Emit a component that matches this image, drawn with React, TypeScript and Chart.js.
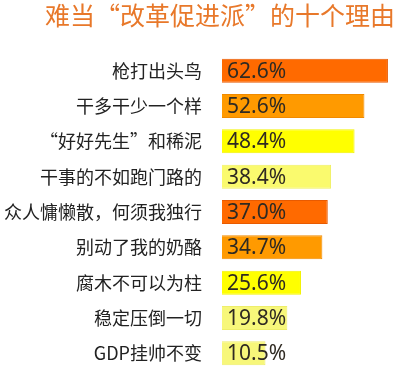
import React, { useEffect, useRef } from "react";
import { Chart, registerables } from "chart.js";

Chart.register(...registerables);

const titleText = "难当“改革促进派”的十个理由";
const categories = [
  "枪打出头鸟",
  "干多干少一个样",
  "“好好先生”和稀泥",
  "干事的不如跑门路的",
  "众人慵懒散，何须我独行",
  "别动了我的奶酪",
  "腐木不可以为柱",
  "稳定压倒一切",
  "GDP挂帅不变",
];
const values = [62.6, 52.6, 48.4, 38.4, 37.0, 34.7, 25.6, 19.8, 10.5];
const valueLabels = ["62.6%", "52.6%", "48.4%", "38.4%", "37.0%", "34.7%", "25.6%", "19.8%", "10.5%"];
const barColors = ["#FF6A00", "#FF9A00", "#FFFF00", "#FAFA6E", "#FF6A00", "#FF9A00", "#FFFF00", "#F7F77A", "#F7F77A"];
const borderColors = ["#E85A00", "#F08A00", "#F2F200", "#F0F060", "#E85A00", "#F08A00", "#F2F200", "#EEEE6A", "#EEEE6A"];

const valueLabelPlugin = {
  id: "valueLabels",
  afterDatasetsDraw(chart: any) {
    const ctx = chart.ctx;
    const meta = chart.getDatasetMeta(0);
    ctx.save();
    ctx.font = '21px "Noto Sans", sans-serif';
    ctx.fillStyle = "#2f2a22";
    ctx.textAlign = "left";
    ctx.textBaseline = "middle";
    meta.data.forEach((bar: any, i: number) => {
      const left = Math.min(bar.x, bar.base);
      ctx.fillText(valueLabels[i], left + 5, bar.y + 1);
    });
    ctx.restore();
  },
};

export default function App() {
  const ref = useRef<HTMLCanvasElement | null>(null);
  useEffect(() => {
    if (!ref.current) return;
    const chart = new Chart(ref.current, {
      type: "bar",
      data: {
        labels: categories,
        datasets: [
          {
            data: values,
            base: -8,
            backgroundColor: barColors,
            borderColor: borderColors,
            borderWidth: 1,
            barPercentage: 0.68,
            categoryPercentage: 1,
          } as any,
        ],
      },
      options: {
        indexAxis: "y",
        animation: false,
        responsive: false,
        maintainAspectRatio: false,
        layout: { padding: { left: 0, right: 5, top: 0, bottom: 0 } },
        plugins: {
          legend: { display: false },
          tooltip: { enabled: false },
          title: {
            display: true,
            text: titleText,
            align: "end",
            color: "#E8782A",
            font: { family: '"Noto Sans CJK SC", sans-serif', size: 25, weight: "normal" },
            padding: { top: 0, bottom: 23 },
          },
        },
        scales: {
          x: {
            display: false,
            min: -8,
            max: 65.6,
            grid: { display: false },
          },
          y: {
            grid: { display: false },
            border: { display: false },
            ticks: {
              color: "#222",
              padding: 12,
              font: { family: '"Noto Sans CJK SC", sans-serif', size: 18 },
            },
            afterFit: (scale: any) => {
              scale.width = 222;
              scale.paddingTop = 0;
              scale.paddingBottom = 0;
            },
          },
        },
      },
      plugins: [valueLabelPlugin],
    } as any);
    return () => chart.destroy();
  }, []);
  return (
    <div style={{ position: "fixed", left: 0, top: 0, width: 400, height: 371, background: "#fff" }}>
      <canvas ref={ref} width={400} height={371} style={{ width: 400, height: 371 }} />
    </div>
  );
}
